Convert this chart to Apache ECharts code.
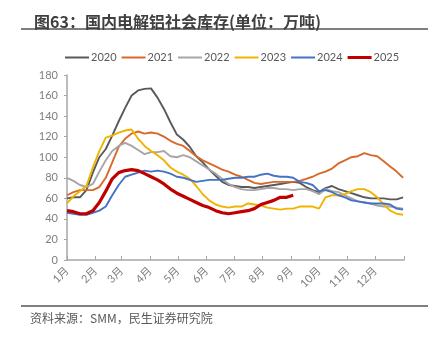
<!DOCTYPE html>
<html>
<head>
<meta charset="utf-8">
<script src="https://cdn.jsdelivr.net/npm/echarts@6/dist/echarts.min.js"></script>
<style>
  html, body { margin: 0; padding: 0; background: #fff; }
  #chart { width: 438px; height: 340px; }
</style>
</head>
<body>
<div id="chart"></div>
<script>
// Day-of-year of each weekly reading (shared by all years)
const weekDays = [0, 7, 14, 21, 28, 35, 42, 49, 56, 63, 70, 77, 84, 91, 98, 105, 112, 119, 126, 133,
  140, 147, 154, 161, 168, 175, 182, 189, 196, 203, 210, 217, 224, 231, 238, 245, 252, 259, 266, 273,
  280, 287, 294, 301, 308, 315, 322, 329, 336, 343, 350, 357, 364];

// First day of each month, plus year end
const monthStarts = [0, 31, 59, 90, 120, 151, 181, 212, 243, 273, 304, 334, 365];
const monthLabels = ['1月', '2月', '3月', '4月', '5月', '6月', '7月', '8月', '9月', '10月', '11月', '12月'];
const yearNames = ['2020', '2021', '2022', '2023', '2024', '2025'];

// Social inventory, 10k tonnes
const inv2020 = [60, 61, 61, 68, 85, 100, 108, 121, 135, 148, 160, 165, 166.5, 167, 158, 147, 134, 122, 117, 110,
  101, 95, 88, 82, 76, 73, 72, 71, 71, 70, 71, 72, 73, 74, 75, 76, 75, 71, 68, 66,
  70, 72, 69, 67, 65, 63, 61, 60, 60, 60, 59, 59, 61];
const inv2021 = [63, 66, 68, 68, 68, 71, 80, 95, 110, 118, 123, 125, 123, 124, 123, 120, 116, 113, 111, 106,
  101, 97, 94, 91, 88, 86, 83, 81, 78, 75, 74, 75, 76, 76, 76, 76, 77, 79, 81, 84,
  86, 89, 94, 97, 100, 101, 104, 102, 101, 96, 91, 86, 80];
const inv2022 = [80, 77, 73, 71, 74, 86, 97, 106, 111, 114, 111, 107, 103, 105, 105, 106, 101, 100, 102, 100,
  96, 92, 88, 84, 79, 74, 71, 69, 68, 68, 69, 70, 70, 69, 69, 68, 69, 69, 67, 64,
  69, 67, 66, 63, 60, 57, 56, 55, 53, 52, 52, 51, 50];
const inv2023 = [55, 62, 67, 72, 90, 106, 119, 121, 124, 126, 127, 118, 111, 106, 102, 97, 90, 86, 83, 79,
  72, 64, 58, 54, 52, 51, 52, 52, 55, 54, 53, 51, 50, 49, 50, 50, 52, 52, 52, 50,
  61, 63, 63, 64, 67, 69, 69, 66, 61, 54, 48, 45, 44];
const inv2024 = [46, 45, 44, 44, 46, 48, 52, 63, 73, 81, 83, 85, 87, 86, 87, 86, 84, 81, 80, 78,
  76, 77, 78, 78, 78, 79, 80, 80, 81, 81, 83, 84, 82, 81, 81, 80, 76, 75, 73, 67,
  68, 66, 63, 61, 58, 57, 56, 55, 55, 55, 54, 50, 49];
const inv2025 = [48, 47, 45, 45, 48, 56, 67, 79, 85, 87, 88, 87, 84, 81, 78, 74, 69, 65, 62, 59,
  56, 53, 51, 48, 46, 45, 46, 47, 48, 50, 54, 56, 58, 61, 61, 63];

const yearValues = [inv2020, inv2021, inv2022, inv2023, inv2024, inv2025];
const colors = ['#595959', '#D9692A', '#A6A6A6', '#F0B300', '#4472C4', '#C00000'];
const widths = [1.9, 1.9, 1.9, 1.9, 1.9, 3.2];

const CJK = '"Noto Sans CJK SC", "Noto Sans", sans-serif';
const FONT = 'Lato, "Noto Sans CJK SC", sans-serif';
const THIN_ICON = 'path://M0,0h24v2h-24z';

const series = yearNames.map((name, i) => ({
  name: name,
  type: 'line',
  symbol: 'none',
  smooth: false,
  data: yearValues[i].map((v, k) => [weekDays[k], v]),
  lineStyle: { color: colors[i], width: widths[i] },
  itemStyle: { color: colors[i] },
  z: 2 + i
}));

const chart = echarts.init(document.getElementById('chart'), null, { renderer: 'canvas' });
chart.setOption({
  animation: false,
  backgroundColor: '#ffffff',
  textStyle: { fontFamily: FONT },
  title: {
    text: '图63：国内电解铝社会库存(单位：万吨)',
    left: 29,
    top: 9,
    textStyle: { fontFamily: CJK, fontSize: 16, fontWeight: 'bold', color: '#404040' }
  },
  graphic: [
    { type: 'line', shape: { x1: 21, y1: 29, x2: 428, y2: 29 }, style: { stroke: '#7F7F7F', lineWidth: 2 } },
    { type: 'line', shape: { x1: 21, y1: 306, x2: 428, y2: 306 }, style: { stroke: '#7F7F7F', lineWidth: 2 } },
    {
      type: 'text', left: 30, top: 312,
      style: { text: '资料来源：SMM，民生证券研究院', fontFamily: CJK, fontSize: 12, fill: '#595959' }
    }
  ],
  legend: {
    data: yearNames.map((name, i) => ({ name: name, icon: i === 5 ? 'rect' : THIN_ICON })),
    left: 60,
    top: 47,
    width: 380,
    itemWidth: 24,
    itemHeight: 3,
    itemGap: 5,
    textStyle: { fontFamily: FONT, fontSize: 11, color: '#595959', padding: [0, 0, 0, -3] }
  },
  grid: { left: 67, right: 34, top: 75, bottom: 80, containLabel: false },
  xAxis: {
    type: 'value',
    min: 0,
    max: 365,
    splitLine: { show: false },
    axisLine: { show: true, lineStyle: { color: '#A6A6A6', width: 1.5 } },
    axisTick: {
      show: true, inside: true, length: 4,
      customValues: monthStarts,
      lineStyle: { color: '#A6A6A6' }
    },
    axisLabel: {
      customValues: monthStarts.slice(0, 12),
      rotate: 45,
      margin: 9,
      fontFamily: FONT,
      fontSize: 11,
      color: '#7F7F7F',
      formatter: (v) => monthLabels[monthStarts.indexOf(v)] || ''
    }
  },
  yAxis: {
    type: 'value',
    min: 0,
    max: 180,
    interval: 20,
    splitLine: { show: false },
    axisLine: { show: true, lineStyle: { color: '#A6A6A6', width: 1.5 } },
    axisTick: { show: true, length: 3, lineStyle: { color: '#A6A6A6' } },
    axisLabel: { margin: 9, fontFamily: FONT, fontSize: 11, color: '#7F7F7F' }
  },
  series: series
});
</script>
</body>
</html>
